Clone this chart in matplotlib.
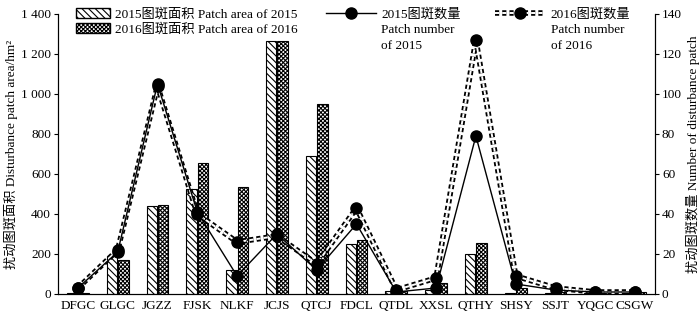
import numpy as np
import matplotlib.pyplot as plt
from matplotlib.lines import Line2D
from matplotlib.patches import Patch

plt.rcParams['font.family'] = ['Liberation Serif', 'Noto Sans CJK SC']
plt.rcParams['hatch.linewidth'] = 0.8
plt.rcParams['lines.scale_dashes'] = False

# land-use categories
categories = ['DFGC', 'GLGC', 'JGZZ', 'FJSK', 'NLKF', 'JCJS', 'QTCJ', 'FDCL',
              'QTDL', 'XXSL', 'QTHY', 'SHSY', 'SSJT', 'YQGC', 'CSGW']

# patch area (hm2)
area_2015 = [5, 190, 440, 525, 120, 1265, 690, 250, 15, 20, 200, 5, 5, 5, 5]
area_2016 = [5, 170, 445, 655, 535, 1265, 950, 270, 15, 55, 255, 30, 10, 5, 10]

# patch number
num_2015 = [3, 21, 105, 41, 9, 30, 12, 35, 1, 3, 79, 5, 2, 1, 1]
num_2016 = [3, 22, 104, 40, 26, 29, 15, 43, 2, 8, 127, 9, 3, 1, 1]

x = np.arange(len(categories))
w = 0.26
hatch15 = '\\\\\\\\\\'
hatch16 = 'xxxxxxxx'

fig = plt.figure(figsize=(7, 3.15), dpi=100)
ax = fig.add_axes([58 / 700, 21 / 315, 597 / 700, 280 / 315])
ax2 = ax.twinx()

ax.bar(x - 0.145, area_2015, w, color='white', edgecolor='black', lw=0.8,
       hatch=hatch15, zorder=2)
ax.bar(x + 0.145, area_2016, w, color='white', edgecolor='black', lw=0.8,
       hatch=hatch16, zorder=2)

ax.set_xlim(-0.5, len(categories) - 0.5)
ax.set_ylim(0, 1400)
ax.set_yticks(range(0, 1401, 200))
ax.set_yticklabels([f'{v:,}'.replace(',', ' ') for v in range(0, 1401, 200)])
ax.set_xticks(x)
ax.set_xticklabels(categories)
ax.tick_params(axis='x', length=0, labelsize=9.5, pad=4)
ax.tick_params(axis='y', labelsize=9.5, direction='out', length=3, pad=2)

# patch counts on right axis
ax2.plot(x, num_2015, color='black', lw=1.0, marker='o', ms=8, zorder=4)
ax2.plot(x, num_2016, color='black', lw=4, dashes=(3, 2.2), zorder=3)
ax2.plot(x, num_2016, color='white', lw=1.4, dashes=(3, 2.2), zorder=3)
ax2.plot(x, num_2016, ls='none', color='black', marker='o', ms=8, zorder=5)
ax2.set_ylim(0, 140)
ax2.set_yticks(range(0, 141, 20))
ax2.tick_params(axis='y', labelsize=9.5, direction='out', length=3, pad=2)

for a in (ax, ax2):
    a.spines['top'].set_visible(False)

ax.set_ylabel('扰动图斑面积 Disturbance patch area/hm²', fontsize=9.5, labelpad=2)
ax2.set_ylabel('扰动图斑数量 Number of disturbance patch', fontsize=9.5, labelpad=3)

# bar legend
bar_handles = [Patch(facecolor='white', edgecolor='black', hatch=hatch15),
               Patch(facecolor='white', edgecolor='black', hatch=hatch16)]
fig.legend(bar_handles, ['2015图斑面积 Patch area of 2015', '2016图斑面积 Patch area of 2016'],
           loc='upper left', bbox_to_anchor=(68 / 700, 1.0), frameon=False,
           fontsize=9.5, handlelength=2.6, handleheight=0.8, labelspacing=0.15,
           borderpad=0.1, handletextpad=0.35)

# line legend (first line of each label in the legend, rest underneath)
line_handles = [Line2D([0], [0], color='black', lw=1.0, marker='o', ms=8),
                (Line2D([0], [0], color='black', lw=4, dashes=(3, 2.2)),
                 Line2D([0], [0], color='white', lw=1.4, dashes=(3, 2.2)),
                 Line2D([0], [0], ls='none', color='black', marker='o', ms=8))]
leg2 = fig.legend(line_handles, ['2015图斑数量', '2016图斑数量'],
                  loc='upper left', bbox_to_anchor=(318 / 700, 1.0), frameon=False,
                  fontsize=9.5, ncol=2, handlelength=3.8, columnspacing=2.6,
                  borderpad=0.1, handletextpad=0.4)
fig.canvas.draw()
inv = fig.transFigure.inverted()
for t, extra in zip(leg2.get_texts(), ['Patch number\nof 2015', 'Patch number\nof 2016']):
    bb = t.get_window_extent()
    (x0, y0) = inv.transform((bb.x0, bb.y0))
    fig.text(x0, y0 - 0.012, extra, fontsize=9.5, va='top', ha='left', linespacing=1.4)

fig.savefig('out.png', dpi=100)
